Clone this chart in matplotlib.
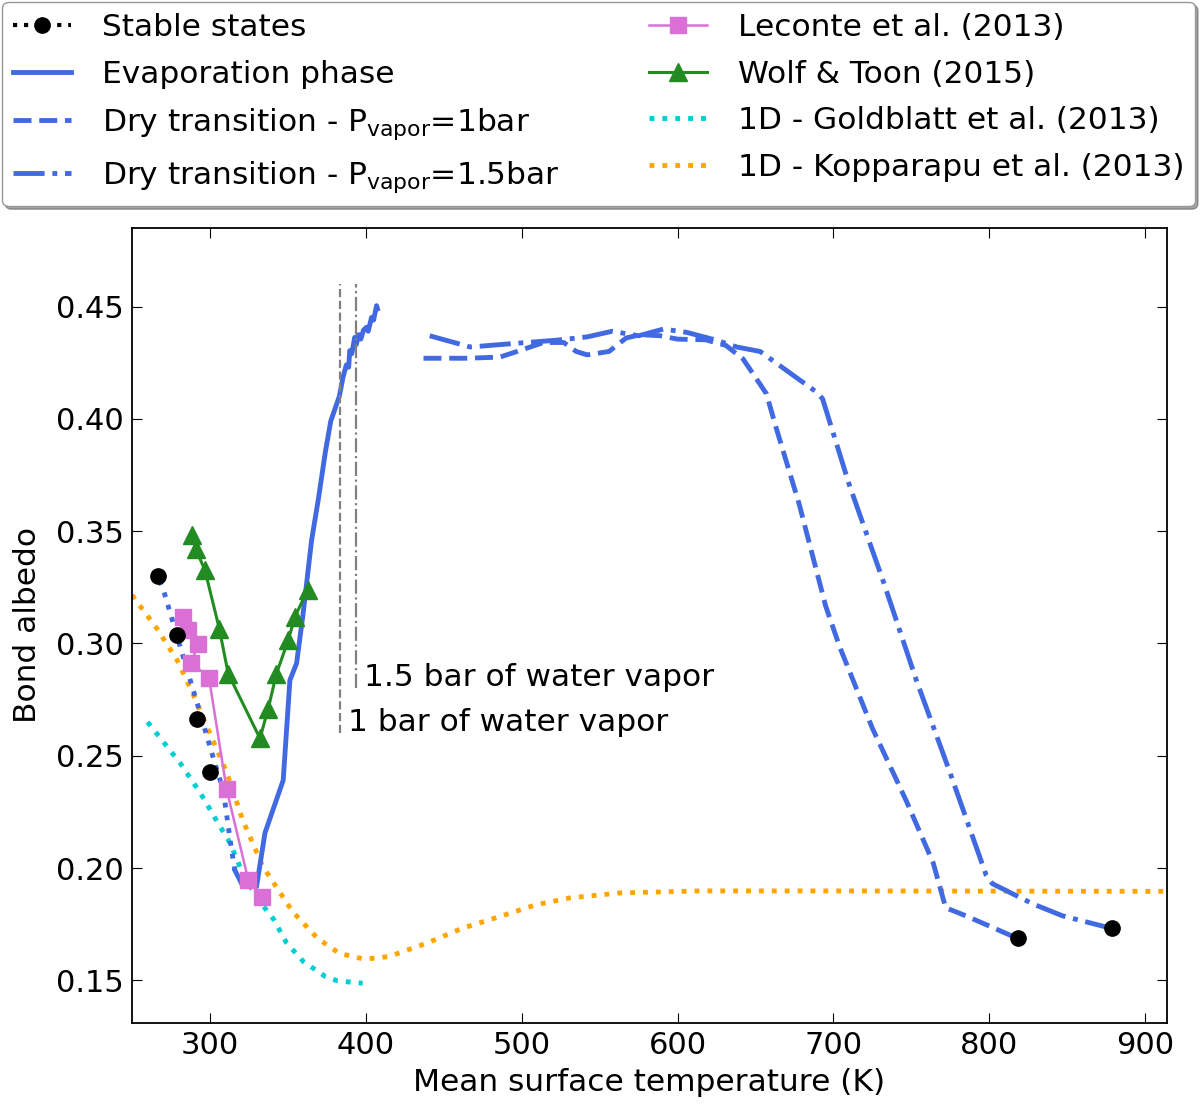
import numpy as np
import matplotlib
matplotlib.use('Agg')
import matplotlib.pyplot as plt
from matplotlib.lines import Line2D

# stable states (black dots)
stable_T = [266.7, 278.8, 291.7, 300.0, 818.2, 878.4]
stable_A = [0.330, 0.3036, 0.2663, 0.2427, 0.1687, 0.1732]

# dotted blue path through the cold stable states
stab_line_T = [267.5, 270.1, 281.9, 292.5, 303.2, 308.5, 313.9, 316.0]
stab_line_A = [0.328, 0.324, 0.2962, 0.2718, 0.2466, 0.2347, 0.208, 0.199]

# evaporation phase
evap_T = [316.0, 321.3, 324.6, 329.9, 335.3, 347.0, 351.3, 355.6, 359.8, 365.2,
          369.5, 374.0, 377.5, 380.5, 383.0, 385.4, 387.5, 389.0, 389.7, 391.0,
          392.9, 393.8, 395.5, 396.8, 398.5, 400.4, 401.5, 403.7, 405.0, 406.9, 407.5]
evap_A = [0.199, 0.1917, 0.1924, 0.1917, 0.2156, 0.2391, 0.2836, 0.2912, 0.3134, 0.3459,
          0.3640, 0.3850, 0.3990, 0.4050, 0.4100, 0.4186, 0.4240, 0.4230, 0.4304, 0.4290,
          0.4363, 0.4330, 0.4375, 0.4355, 0.4395, 0.4408, 0.4390, 0.4452, 0.4440, 0.4504, 0.449]

# dry transition, P_vapor = 1 bar
dry1_T = [437, 465, 486, 497, 514, 527, 535, 542, 556, 567, 576, 589, 600, 618, 631, 642,
          657, 663, 678, 695, 704, 725, 747, 764, 772, 785, 818]
dry1_A = [0.427, 0.427, 0.4275, 0.430, 0.434, 0.434, 0.430, 0.4285, 0.430, 0.436, 0.4375,
          0.437, 0.4355, 0.4352, 0.4327, 0.4267, 0.4112, 0.3966, 0.3621, 0.3167, 0.2985,
          0.2622, 0.2295, 0.2023, 0.1823, 0.1787, 0.1687]

# dry transition, P_vapor = 1.5 bar
dry15_T = [441, 467, 503, 522, 542, 558, 575, 591, 606, 625, 638, 653, 661, 689, 693,
           710, 732, 753, 774, 798, 802, 828, 847, 878]
dry15_A = [0.437, 0.432, 0.434, 0.435, 0.4365, 0.439, 0.437, 0.440, 0.4385, 0.435, 0.432,
           0.430, 0.426, 0.412, 0.409, 0.371, 0.3276, 0.284, 0.244, 0.1968, 0.193, 0.184,
           0.1787, 0.1732]

# Leconte et al. (2013)
leconte_T = [282.9, 286.1, 292.5, 287.8, 299.4, 310.7, 324.6, 333.1]
leconte_A = [0.3118, 0.3059, 0.2996, 0.2915, 0.2848, 0.2350, 0.1947, 0.1872]

# Wolf & Toon (2015)
wolf_T = [288.8, 290.8, 296.8, 306.0, 311.7, 332.1, 337.4, 342.7, 350.2, 354.5, 362.6]
wolf_A = [0.3481, 0.3422, 0.3326, 0.3066, 0.2866, 0.2577, 0.2710, 0.2866, 0.3014, 0.3118, 0.3237]

# 1D Goldblatt et al. (2013)
gold_T = [260, 281, 294, 304, 313, 322, 331, 341, 349, 360, 374, 382, 398]
gold_A = [0.265, 0.2466, 0.2332, 0.2214, 0.211, 0.196, 0.186, 0.177, 0.1668, 0.1583,
          0.1517, 0.1497, 0.1487]

# 1D Kopparapu et al. (2013)
kopp_T = [250, 266, 279, 289, 300, 311, 321, 334, 353, 369, 383, 399, 415, 439, 462,
          486, 509, 531, 563, 614, 700, 800, 915]
kopp_A = [0.3215, 0.3066, 0.2925, 0.2777, 0.2599, 0.2421, 0.2214, 0.2006, 0.1806, 0.1687,
          0.162, 0.1594, 0.1606, 0.1665, 0.1732, 0.1784, 0.1836, 0.1867, 0.1889, 0.1898,
          0.1898, 0.1897, 0.1896]

blue = 'royalblue'
big = 22.5
small = 22

fig = plt.figure(figsize=(12, 11.04), dpi=100)
ax = fig.add_axes([0.110, 0.0734, 0.8625, 0.7201])

ax.plot(kopp_T, kopp_A, ':', color='orange', lw=3.5)
ax.plot(gold_T, gold_A, ':', color='darkturquoise', lw=3.5)
ax.plot(stab_line_T, stab_line_A, ':', color=blue, lw=3.5)
ax.plot(evap_T, evap_A, '-', color=blue, lw=3.5)
ax.plot(dry1_T, dry1_A, '--', color=blue, lw=3.5)
ax.plot(dry15_T, dry15_A, '-.', color=blue, lw=3.5)
ax.plot(wolf_T, wolf_A, '-^', color='forestgreen', lw=2.2, ms=13)
ax.plot(leconte_T, leconte_A, '-s', color='orchid', lw=1.8, ms=12)
ax.plot(stable_T, stable_A, 'o', color='k', ms=11, zorder=5)

# water vapor markers
ax.plot([383.3, 383.3], [0.26, 0.46], '--', color='gray', lw=1.6)
ax.plot([393.6, 393.6], [0.28, 0.46], '-.', color='gray', lw=1.6)
ax.text(398.6, 0.281, '1.5 bar of water vapor', fontsize=big, va='baseline')
ax.text(388.3, 0.261, '1 bar of water vapor', fontsize=big, va='baseline')

ax.set_xlim(250, 914)
ax.set_ylim(0.131, 0.485)
ax.set_xticks([300, 400, 500, 600, 700, 800, 900])
ax.set_yticks([0.15, 0.20, 0.25, 0.30, 0.35, 0.40, 0.45])
ax.yaxis.set_major_formatter(matplotlib.ticker.FormatStrFormatter('%.2f'))
ax.tick_params(direction='in', top=True, right=True, length=7, labelsize=small, pad=6)
for s in ax.spines.values():
    s.set_linewidth(1.3)
ax.set_xlabel('Mean surface temperature (K)', fontsize=big)
ax.set_ylabel('Bond albedo', fontsize=big)
ax.xaxis.set_label_coords(0.5, -0.057)
ax.yaxis.set_label_coords(-0.087, 0.5)

handles = [
    Line2D([], [], ls=':', color='k', marker='o', ms=11, lw=3),
    Line2D([], [], ls='-', color=blue, lw=3.5),
    Line2D([], [], ls='--', color=blue, lw=3.5),
    Line2D([], [], ls='-.', color=blue, lw=3.5),
    Line2D([], [], ls='-', color='orchid', marker='s', ms=12, lw=1.8),
    Line2D([], [], ls='-', color='forestgreen', marker='^', ms=13, lw=2.2),
    Line2D([], [], ls=':', color='darkturquoise', lw=3.5),
    Line2D([], [], ls=':', color='orange', lw=3.5),
]
labels = ['Stable states', 'Evaporation phase',
          r'Dry transition - P$_{\rm vapor}$=1bar',
          r'Dry transition - P$_{\rm vapor}$=1.5bar',
          'Leconte et al. (2013)', 'Wolf & Toon (2015)',
          '1D - Goldblatt et al. (2013)', '1D - Kopparapu et al. (2013)']
fig.legend(handles, labels, loc='upper left', bbox_to_anchor=(0.002, 0.998, 0.994, 0),
           mode='expand', ncol=2, fontsize=big, shadow=True, fancybox=True,
           borderaxespad=0, labelspacing=0.56, handlelength=1.85, handletextpad=1.0,
           borderpad=0.35, framealpha=1, edgecolor='0.6')

plt.savefig('out.png', dpi=100)
